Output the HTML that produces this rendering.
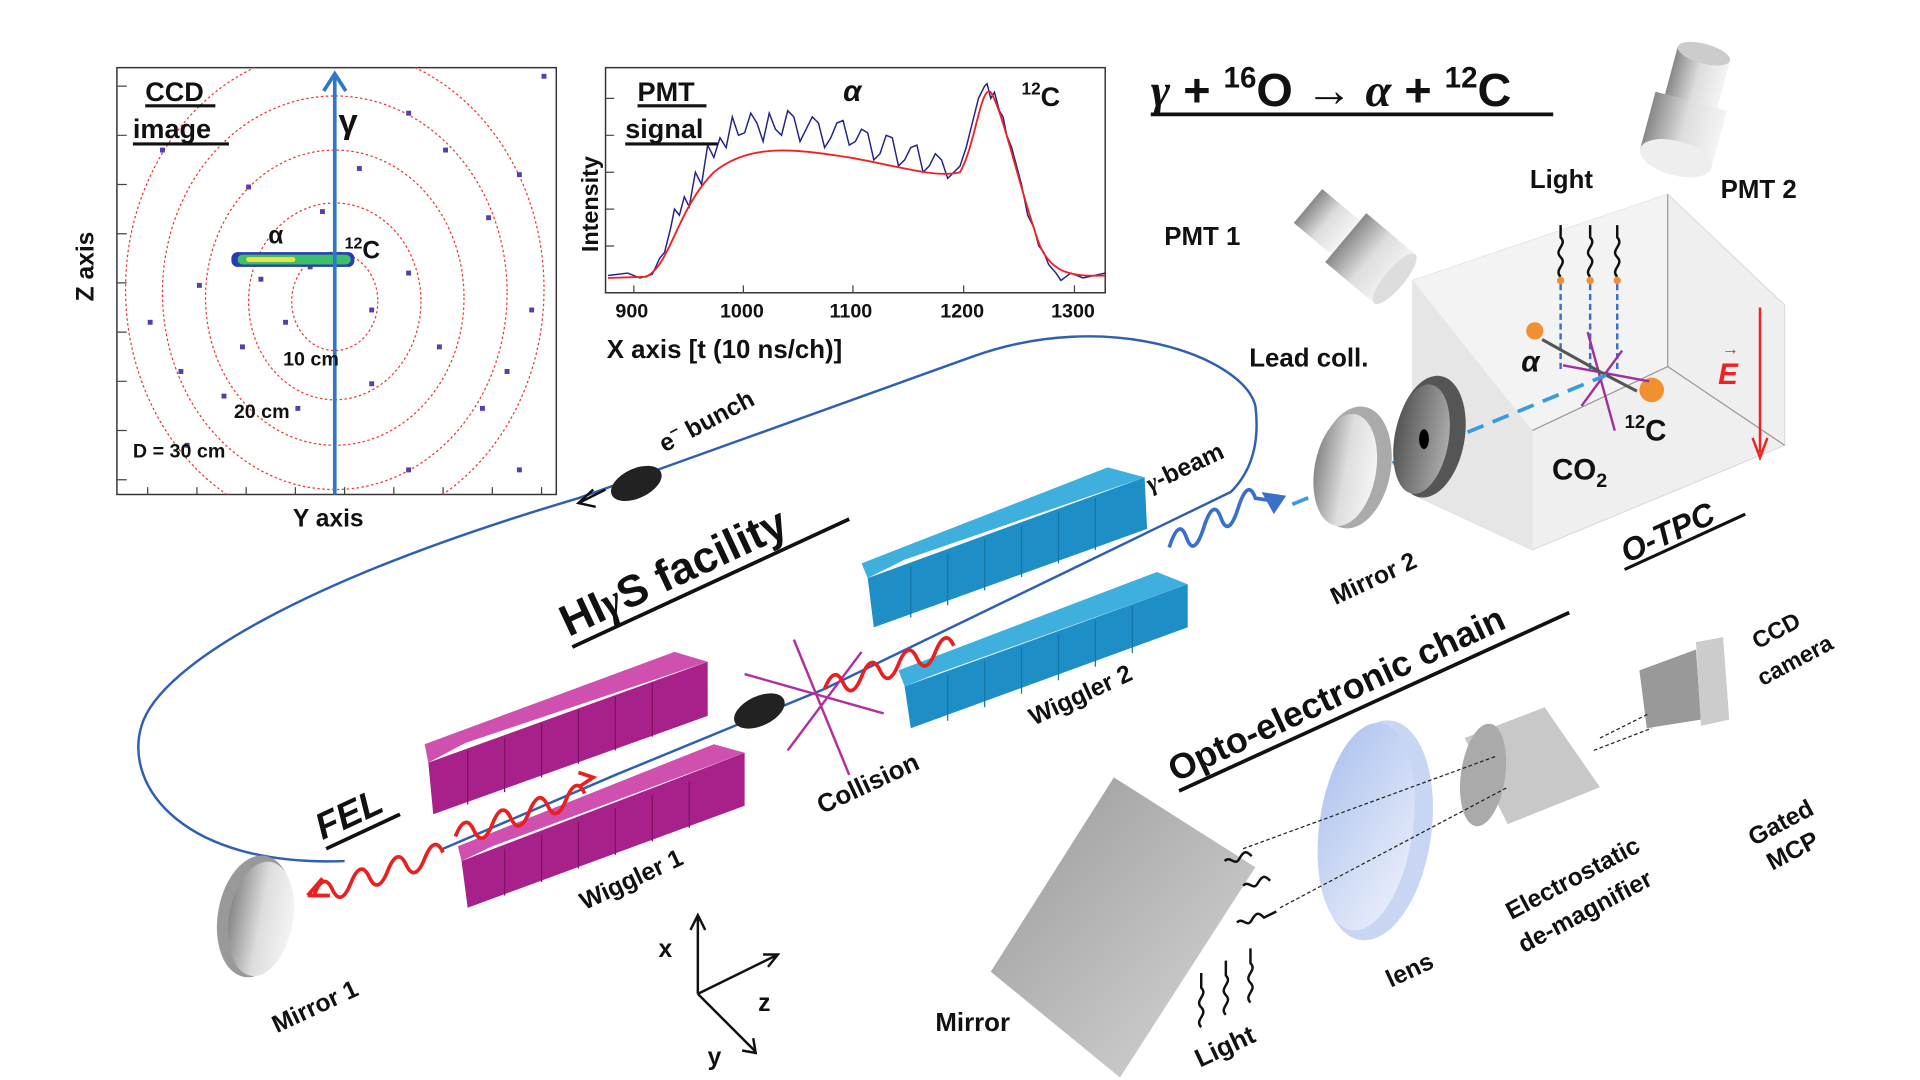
<!DOCTYPE html>
<html><head><meta charset="utf-8"><style>
html,body{margin:0;padding:0;background:#fff;width:1920px;height:1080px;overflow:hidden}
svg{display:block}
text{font-family:"Liberation Sans",sans-serif;font-weight:bold;fill:#111}
</style></head><body>
<svg width="1920" height="1080" viewBox="0 0 1560 878" preserveAspectRatio="none" xmlns="http://www.w3.org/2000/svg">
<defs>
<linearGradient id="gcyl" x1="0" y1="0" x2="1" y2="0"><stop offset="0" stop-color="#888"/><stop offset="0.5" stop-color="#ddd"/><stop offset="1" stop-color="#f4f4f4"/></linearGradient>
<linearGradient id="gdark" x1="0" y1="0" x2="1" y2="0"><stop offset="0" stop-color="#555"/><stop offset="1" stop-color="#aaa"/></linearGradient>
<linearGradient id="glens" x1="0" y1="0" x2="1" y2="1"><stop offset="0" stop-color="#aac0ee"/><stop offset="1" stop-color="#eef2fb"/></linearGradient>
<linearGradient id="gmir" x1="0" y1="0" x2="1" y2="1"><stop offset="0" stop-color="#999"/><stop offset="1" stop-color="#d8d8d8"/></linearGradient>
<clipPath id="ccdclip"><rect x="95" y="55" width="357" height="347"/></clipPath>
</defs>

<!-- CCD panel -->
<rect x="95" y="55" width="357" height="347" fill="#fff" stroke="#333" stroke-width="1.2"/>
<g stroke="#444" stroke-width="1">
<path d="M95 70h8M95 110h8M95 150h8M95 190h8M95 230h8M95 270h8M95 310h8M95 350h8M95 390h8M120 402v-6M160 402v-6M200 402v-6M240 402v-6M280 402v-6M320 402v-6M360 402v-6M400 402v-6M440 402v-6"/>
</g>
<g fill="none" stroke="#e33" stroke-width="1" stroke-dasharray="2,2" clip-path="url(#ccdclip)">
<ellipse cx="272" cy="245" rx="35" ry="40"/>
<ellipse cx="272" cy="245" rx="70" ry="80"/>
<ellipse cx="272" cy="242" rx="105" ry="120"/>
<ellipse cx="272" cy="238" rx="140" ry="160"/>
<ellipse cx="272" cy="235" rx="170" ry="195"/>
</g>
<g fill="#5540aa">
<rect x="130" y="120" width="4" height="4"/><rect x="200" y="150" width="4" height="4"/><rect x="330" y="90" width="4" height="4"/><rect x="395" y="175" width="4" height="4"/><rect x="420" y="140" width="4" height="4"/><rect x="160" y="230" width="4" height="4"/><rect x="330" y="220" width="4" height="4"/><rect x="355" y="280" width="4" height="4"/><rect x="145" y="300" width="4" height="4"/><rect x="230" y="260" width="4" height="4"/><rect x="300" y="250" width="4" height="4"/><rect x="195" y="280" width="4" height="4"/><rect x="390" y="330" width="4" height="4"/><rect x="150" y="360" width="4" height="4"/><rect x="330" y="380" width="4" height="4"/><rect x="420" y="380" width="4" height="4"/><rect x="260" y="170" width="4" height="4"/><rect x="360" y="120" width="4" height="4"/><rect x="430" y="250" width="4" height="4"/><rect x="180" y="320" width="4" height="4"/><rect x="250" y="215" width="4" height="4"/><rect x="210" y="225" width="4" height="4"/><rect x="300" y="310" width="4" height="4"/><rect x="240" y="330" width="4" height="4"/><rect x="120" y="260" width="4" height="4"/><rect x="440" y="60" width="4" height="4"/><rect x="410" y="300" width="4" height="4"/><rect x="290" y="135" width="4" height="4"/>
</g>
<rect x="188" y="205" width="100" height="12" rx="5" fill="#2a3db0"/>
<rect x="193" y="207" width="92" height="8" rx="4" fill="#3cbf6a"/>
<rect x="200" y="209" width="40" height="4" rx="2" fill="#f0e040"/>
<line x1="272" y1="402" x2="272" y2="62" stroke="#2f78c8" stroke-width="3"/>
<path d="M263 74 L272 60 L281 74" fill="none" stroke="#2f78c8" stroke-width="3"/>
<text x="118" y="82" font-size="22">CCD</text><line x1="118" y1="86" x2="175" y2="86" stroke="#111" stroke-width="2.5"/>
<text x="108" y="112" font-size="22">image</text><line x1="108" y1="117" x2="186" y2="117" stroke="#111" stroke-width="2.5"/>
<text x="275" y="108" font-size="28" font-weight="normal" font-family="Liberation Serif">γ</text>
<text x="218" y="198" font-size="20" font-weight="normal">α</text>
<text x="280" y="210" font-size="20"><tspan font-size="13" dy="-8">12</tspan><tspan dy="8">C</tspan></text>
<text x="230" y="297" font-size="16">10 cm</text>
<text x="190" y="340" font-size="16">20 cm</text>
<text x="108" y="372" font-size="16">D = 30 cm</text>
<text x="238" y="428" font-size="20">Y axis</text>
<text transform="translate(76,245) rotate(-90)" font-size="20">Z axis</text>

<!-- PMT panel -->
<rect x="492" y="55" width="406" height="183" fill="#fff" stroke="#333" stroke-width="1.2"/>
<g stroke="#444" stroke-width="1"><path d="M492 80h7M492 110h7M492 140h7M492 170h7M492 200h7M515 238v-6M604 238v-6M693 238v-6M783 238v-6M873 238v-6"/></g>
<path d="M494 224 L510 222 L520 226 L530 223 L536 210 L540 205 L545 185 L548 170 L552 175 L556 160 L560 168 L565 140 L570 150 L575 118 L580 128 L585 112 L590 120 L595 95 L600 110 L605 108 L610 92 L615 100 L620 115 L625 92 L630 105 L635 110 L640 90 L645 95 L650 115 L655 105 L660 95 L665 100 L670 120 L675 112 L680 100 L685 98 L690 118 L695 115 L700 105 L705 108 L710 130 L715 125 L720 110 L725 112 L730 135 L735 130 L740 120 L745 118 L750 140 L755 135 L760 125 L765 130 L770 145 L775 140 L780 135 L785 120 L790 100 L795 80 L800 70 L802 68 L805 80 L808 75 L812 90 L815 95 L818 110 L822 120 L826 135 L830 150 L835 175 L840 185 L844 200 L848 205 L852 215 L858 222 L862 228 L870 222 L880 226 L898 222" fill="none" stroke="#22228a" stroke-width="1.2"/>
<path d="M494 226 L525 225 C545 215 550 170 580 140 C610 115 650 122 690 128 C730 135 760 145 780 140 C792 120 797 68 805 75 C815 90 830 160 845 200 C855 222 870 225 898 224" fill="none" stroke="#e22" stroke-width="1.5"/>
<text x="518" y="82" font-size="22">PMT</text><line x1="518" y1="86" x2="574" y2="86" stroke="#111" stroke-width="2.5"/>
<text x="508" y="112" font-size="22">signal</text><line x1="508" y1="117" x2="583" y2="117" stroke="#111" stroke-width="2.5"/>
<text x="685" y="82" font-size="24" font-style="italic" font-family="Liberation Serif">α</text>
<text x="830" y="86" font-size="22"><tspan font-size="14" dy="-9">12</tspan><tspan dy="9">C</tspan></text>
<text transform="translate(486,205) rotate(-90)" font-size="19">Intensity</text>
<g font-size="16"><text x="500" y="258">900</text><text x="585" y="258">1000</text><text x="674" y="258">1100</text><text x="764" y="258">1200</text><text x="854" y="258">1300</text></g>
<text x="493" y="291" font-size="21">X axis [t (10 ns/ch)]</text>

<!-- title -->
<text x="935" y="86" font-size="38"><tspan font-style="italic" font-family="Liberation Serif">γ</tspan> + <tspan font-size="24" dy="-15">16</tspan><tspan dy="15">O → </tspan><tspan font-style="italic" font-family="Liberation Serif">α</tspan> + <tspan font-size="24" dy="-15">12</tspan><tspan dy="15">C</tspan></text>
<line x1="935" y1="93" x2="1262" y2="93" stroke="#111" stroke-width="3"/>

<!-- PMT2 -->
<g transform="translate(1372,90) rotate(15)">
<rect x="-22" y="-48" width="44" height="40" fill="url(#gcyl)"/><ellipse cx="0" cy="-48" rx="22" ry="8" fill="#ccc"/>
<rect x="-30" y="-8" width="60" height="48" fill="url(#gcyl)"/><ellipse cx="0" cy="40" rx="30" ry="14" fill="#eee"/>
</g>
<!-- PMT1 -->
<g transform="translate(1098,197) rotate(40)">
<rect x="-46" y="-18" width="40" height="36" fill="url(#gcyl)"/><rect x="-6" y="-26" width="52" height="52" fill="url(#gcyl)"/><ellipse cx="46" cy="0" rx="8" ry="26" fill="#ddd"/>
</g>
<text x="1243" y="153" font-size="21">Light</text>
<text x="1398" y="161" font-size="21">PMT 2</text>
<text x="946" y="199" font-size="21">PMT 1</text>

<!-- O-TPC cube -->
<polygon points="1148,228 1355,158 1450,248 1450,362 1245,447 1148,402" fill="#efefef" stroke="#ddd"/>
<polygon points="1148,228 1355,158 1355,298 1245,350" fill="#f3f3f3"/>
<polygon points="1148,228 1245,350 1245,447 1148,402" fill="#e6e6e6"/>
<path d="M1355 158 V298 L1450 362 M1355 298 L1245 350" stroke="#999" fill="none" stroke-width="1"/>
<line x1="1430" y1="250" x2="1430" y2="368" stroke="#e22" stroke-width="2"/><path d="M1424 356 L1430 372 L1436 356" fill="none" stroke="#e22" stroke-width="2"/>
<text x="1396" y="312" font-size="24" style="fill:#e22" font-style="italic" font-family="Liberation Serif">E</text>
<text x="1399" y="288" font-size="14" style="fill:#e22">→</text>
<g stroke="#3a6fc8" stroke-width="2" stroke-dasharray="5,3"><line x1="1268" y1="300" x2="1268" y2="228"/><line x1="1292" y1="300" x2="1292" y2="228"/><line x1="1314" y1="300" x2="1314" y2="228"/></g>
<g fill="none" stroke="#111" stroke-width="2"><path d="M1268 225 c-6-6 6-10 0-16 c-6-6 6-10 0-16 l0-10"/><path d="M1292 225 c-6-6 6-10 0-16 c-6-6 6-10 0-16 l0-10"/><path d="M1314 225 c-6-6 6-10 0-16 c-6-6 6-10 0-16 l0-10"/></g>
<g fill="#f09030"><circle cx="1268" cy="228" r="3"/><circle cx="1292" cy="228" r="3"/><circle cx="1314" cy="228" r="3"/><circle cx="1247" cy="269" r="7"/><circle cx="1342" cy="317" r="10"/></g>
<g stroke="#a030a0" stroke-width="2"><line x1="1290" y1="270" x2="1312" y2="350"/><line x1="1270" y1="297" x2="1340" y2="310"/><line x1="1285" y1="330" x2="1318" y2="285"/></g>
<path d="M1305 305 L1253 276 M1305 305 L1330 318" stroke="#555" stroke-width="2.5"/>
<text x="1236" y="302" font-size="24" font-style="italic" font-family="Liberation Serif">α</text>
<text x="1320" y="358" font-size="24"><tspan font-size="15" dy="-10">12</tspan><tspan dy="10">C</tspan></text>
<text x="1261" y="390" font-size="24" font-weight="normal">CO<tspan font-size="16" dy="6">2</tspan></text>
<line x1="1050" y1="410" x2="1305" y2="305" stroke="#3a9ae0" stroke-width="3" stroke-dasharray="14,8"/>

<!-- Lead coll & mirror 2 -->
<ellipse cx="1162" cy="355" rx="28" ry="50" fill="#555" transform="rotate(10 1162 355)"/>
<ellipse cx="1155" cy="357" rx="22" ry="45" fill="url(#gdark)" transform="rotate(10 1155 357)"/>
<ellipse cx="1157" cy="357" rx="4" ry="8" fill="#000"/>
<ellipse cx="1100" cy="380" rx="30" ry="50" fill="#aaa" transform="rotate(10 1100 380)"/>
<ellipse cx="1093" cy="382" rx="25" ry="46" fill="url(#gcyl)" transform="rotate(10 1093 382)"/>
<text x="1015" y="298" font-size="21">Lead coll.</text>
<text transform="translate(1085,492) rotate(-25)" font-size="20">Mirror 2</text>
<text transform="translate(1322,458) rotate(-25)" font-size="26" font-style="italic">O-TPC</text>
<line x1="1320" y1="463" x2="1418" y2="418" stroke="#111" stroke-width="2.5"/>

<!-- electron loop -->
<path d="M280 700 C150 705 100 640 115 590 C130 540 250 470 470 405 L790 290 C900 250 1010 290 1020 330 C1025 370 1010 390 1000 400 L670 560 L500 630 L360 690" fill="none" stroke="#2f5fb0" stroke-width="2"/>
<ellipse cx="517" cy="393" rx="22" ry="12" fill="#222" transform="rotate(-25 517 393)"/>
<path d="M492 398 L472 408" stroke="#111" stroke-width="2"/><path d="M482 398 L470 409 L484 412" fill="none" stroke="#111" stroke-width="2"/>
<ellipse cx="617" cy="578" rx="22" ry="12" fill="#222" transform="rotate(-25 617 578)"/>
<text transform="translate(540,368) rotate(-28)" font-size="20">e<tspan font-size="13" dy="-8">−</tspan><tspan dy="8"> bunch</tspan></text>

<!-- wigglers -->
<g fill="#1e8ec6"><polygon points="705,470 930,388 932,430 710,510"/><polygon points="735,558 965,475 965,510 740,592"/></g>
<g fill="#3fb0de"><polygon points="705,470 735,455 930,388 900,380 700,458"/><polygon points="735,558 760,548 965,475 940,465 730,545"/></g>
<g stroke="#1676a8" stroke-width="1"><path d="M740 460v42M770 450v42M800 438v42M830 427v42M860 416v42M890 405v42M770 548v38M800 537v38M830 526v38M860 515v38M890 504v38M920 493v38"/></g>
<g fill="#a8208a"><polygon points="348,620 575,538 575,582 352,662"/><polygon points="375,700 605,612 605,655 380,738"/></g>
<g fill="#d050b0"><polygon points="348,620 378,604 575,538 548,530 345,605"/><polygon points="375,700 400,688 605,612 580,605 372,688"/></g>
<g stroke="#7a1565" stroke-width="1"><path d="M380 610v44M410 600v44M440 588v44M470 577v44M500 566v44M530 555v44M410 690v38M440 679v38M470 668v38M500 657v38M530 646v38M560 635v38"/></g>

<!-- collision star -->
<g stroke="#b030a0" stroke-width="2"><line x1="645" y1="520" x2="690" y2="630"/><line x1="605" y1="548" x2="718" y2="580"/><line x1="640" y1="610" x2="700" y2="530"/></g>
<!-- red waves -->
<g fill="none" stroke="#e82020" stroke-width="3">
<path d="M670 560 q8 -20 15 -5 t15 -5 t15 -5 t15 -5 t15 -5 t15 -5 t15 -5"/>
<path d="M370 680 q8 -20 15 -5 t15 -5 t15 -5 t15 -5 t15 -5 t15 -5 t15 -5"/>
<path d="M255 728 q8 -20 15 -5 t15 -5 t15 -5 t15 -5 t15 -5 t15 -5 t15 -5"/>
</g>
<path d="M250 728 L262 714 M250 728 L268 728" stroke="#e82020" stroke-width="3"/>
<path d="M470 640 L482 632 L470 628" stroke="#e82020" stroke-width="3" fill="none"/>
<g fill="none" stroke="#3a70c8" stroke-width="3"><path d="M950 445 q8 -25 14 -8 t14 -8 t14 -8 t14 -8 t14 -8 L1040 408"/></g>
<path d="M1025 400 L1045 403 L1035 418" fill="#3a70c8"/>

<!-- mirror1 -->
<ellipse cx="207" cy="745" rx="30" ry="50" fill="#999" transform="rotate(10 207 745)"/>
<ellipse cx="212" cy="747" rx="26" ry="47" fill="url(#gcyl)" transform="rotate(10 212 747)"/>

<!-- labels left -->
<text transform="translate(462,518) rotate(-25)" font-size="36">HI<tspan font-style="italic" font-family="Liberation Serif">γ</tspan>S facility</text>
<line x1="465" y1="526" x2="690" y2="422" stroke="#111" stroke-width="3"/>
<text transform="translate(262,683) rotate(-25)" font-size="30" font-style="italic">FEL</text>
<line x1="265" y1="690" x2="325" y2="662" stroke="#111" stroke-width="3"/>
<text transform="translate(475,740) rotate(-25)" font-size="20">Wiggler 1</text>
<text transform="translate(840,590) rotate(-25)" font-size="20">Wiggler 2</text>
<text transform="translate(668,662) rotate(-25)" font-size="21">Collision</text>
<text transform="translate(935,400) rotate(-25)" font-size="20"><tspan font-style="italic" font-family="Liberation Serif">γ</tspan>-beam</text>
<text transform="translate(225,840) rotate(-25)" font-size="20">Mirror 1</text>

<!-- axes -->
<g stroke="#111" stroke-width="2" fill="none"><path d="M567 808 V745 M561 756 L567 744 L573 756 M567 808 L632 776 M620 776 L632 776 L624 786 M567 808 L614 855 M603 854 L614 856 L612 844"/></g>
<text x="535" y="778" font-size="20" font-weight="normal">x</text>
<text x="616" y="822" font-size="20" font-weight="normal">z</text>
<text x="575" y="866" font-size="20" font-weight="normal">y</text>

<!-- opto chain -->
<text transform="translate(955,636) rotate(-25)" font-size="29">Opto-electronic chain</text>
<line x1="958" y1="643" x2="1275" y2="498" stroke="#111" stroke-width="3"/>
<polygon points="905,632 1020,705 910,876 805,790" fill="url(#gmir)"/>
<ellipse cx="1118" cy="675" rx="45" ry="90" fill="#c8d6f3" transform="rotate(8 1118 675)"/>
<ellipse cx="1110" cy="672" rx="38" ry="85" fill="url(#glens)" transform="rotate(8 1110 672)"/>
<polygon points="1190,600 1255,575 1300,640 1225,670" fill="#c8c8c8"/>
<ellipse cx="1205" cy="630" rx="18" ry="42" fill="#aaa" transform="rotate(8 1205 630)"/>
<polygon points="1332,545 1378,528 1382,585 1338,592" fill="#999"/>
<polygon points="1378,522 1400,518 1405,585 1382,590" fill="#ccc"/>
<g stroke="#222" stroke-width="1" stroke-dasharray="3,2" fill="none"><path d="M1010 690 L1215 615 M1040 738 L1225 640 M1300 600 L1340 580 M1295 610 L1342 592"/></g>
<g fill="none" stroke="#111" stroke-width="2">
<path d="M995 700 c5 -5 8 5 12 -2 s6 -6 10 -2"/><path d="M1010 720 c5 -5 8 5 12 -2 s6 -6 10 -2"/><path d="M1005 750 c5 -5 8 5 12 -2 s6 -6 10 -2 l10 -5"/>
<path d="M976 835 c-6 -6 6 -10 0 -16 c-6 -6 6 -10 0 -16 l0 -12"/><path d="M996 825 c-6 -6 6 -10 0 -16 c-6 -6 6 -10 0 -16 l0 -12"/><path d="M1016 815 c-6 -6 6 -10 0 -16 c-6 -6 6 -10 0 -16 l0 -12"/>
</g>
<text x="760" y="838" font-size="21">Mirror</text>
<text transform="translate(975,868) rotate(-25)" font-size="21">Light</text>
<text transform="translate(1130,803) rotate(-25)" font-size="20">lens</text>
<text transform="translate(1228,748) rotate(-28)" font-size="20">Electrostatic</text>
<text transform="translate(1238,775) rotate(-28)" font-size="20">de-magnifier</text>
<text transform="translate(1425,688) rotate(-28)" font-size="20">Gated</text>
<text transform="translate(1440,708) rotate(-28)" font-size="20">MCP</text>
<text transform="translate(1428,528) rotate(-28)" font-size="19">CCD</text>
<text transform="translate(1432,558) rotate(-28)" font-size="19">camera</text>
</svg>
</body></html>
